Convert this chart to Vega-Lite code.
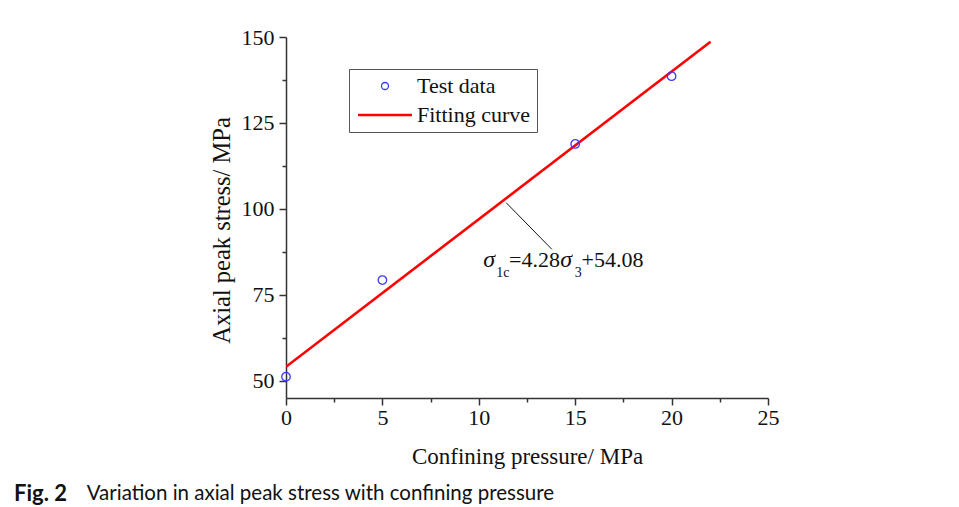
{
  "$schema": "https://vega.github.io/schema/vega-lite/v6.json",
  "width": 482,
  "height": 361,
  "autosize": {"type": "none"},
  "padding": {"left": 286, "top": 37, "right": 191, "bottom": 109},
  "background": "white",
  "title": {
    "text": "Fig. 2",
    "subtitle": "\u200b\u00a0\u00a0\u00a0\u00a0\u00a0\u00a0\u00a0\u00a0\u00a0\u00a0\u00a0\u00a0\u00a0\u00a0Variation in axial peak stress with confining pressure",
    "orient": "bottom",
    "anchor": "start",
    "frame": "group",
    "dx": -272,
    "offset": 16,
    "font": "Lato",
    "fontSize": 22,
    "fontWeight": "bold",
    "color": "#111",
    "subtitleFont": "Lato",
    "subtitleFontSize": 20.5,
    "subtitleColor": "#111",
    "subtitlePadding": -22
  },
  "config": {
    "view": {"stroke": null},
    "axis": {
      "labelFont": "Liberation Serif",
      "titleFont": "Liberation Serif",
      "labelFontSize": 22,
      "titleFontSize": 23,
      "labelColor": "#111",
      "titleColor": "#111",
      "titleFontWeight": "normal",
      "domainColor": "#333",
      "domainWidth": 1.5,
      "tickColor": "#333",
      "tickWidth": 1.5,
      "grid": false,
      "labelOverlap": false,
      "labelFlush": false
    }
  },
  "datasets": {
    "fit": [
      {"x": 0, "y": 54.08, "series": "Fitting curve"},
      {"x": 22.02, "y": 148.6, "series": "Fitting curve"}
    ],
    "test": [
      {"x": 0, "y": 51.2, "series": "Test data"},
      {"x": 5, "y": 79.3, "series": "Test data"},
      {"x": 15, "y": 118.9, "series": "Test data"},
      {"x": 20, "y": 138.6, "series": "Test data"}
    ],
    "leader": [
      {"x": 11.42, "y": 101.8, "x2": 13.79, "y2": 88.25}
    ],
    "eqMain": [
      {"x": 11.57, "y": 83.1, "t": "=4.28"},
      {"x": 15.33, "y": 83.1, "t": "+54.08"}
    ],
    "eqSigma": [
      {"x": 10.23, "y": 83.1, "t": "σ"},
      {"x": 14.22, "y": 83.1, "t": "σ"}
    ],
    "eqSub": [
      {"x": 10.9, "y": 80.3, "t": "1c"},
      {"x": 14.98, "y": 80.1, "t": "3"}
    ]
  },
  "layer": [
    {
      "data": {"name": "fit"},
      "mark": {"type": "line", "strokeWidth": 2.6, "clip": true},
      "encoding": {
        "x": {
          "field": "x", "type": "quantitative",
          "scale": {"domain": [0, 25], "nice": false, "zero": false},
          "axis": {
            "values": [0, 2.5, 5, 7.5, 10, 12.5, 15, 17.5, 20, 22.5, 25],
            "labelExpr": "datum.value % 5 === 0 ? datum.label : ''",
            "tickSize": {"condition": {"test": "datum.value % 5 === 0", "value": 7}, "value": 4},
            "title": "Confining pressure/ MPa",
            "labelPadding": 2,
            "titlePadding": 17
          }
        },
        "y": {
          "field": "y", "type": "quantitative",
          "scale": {"domain": [45, 150], "nice": false, "zero": false},
          "axis": {
            "values": [50, 62.5, 75, 87.5, 100, 112.5, 125, 137.5, 150],
            "labelExpr": "datum.value % 25 === 0 ? datum.label : ''",
            "tickSize": {"condition": {"test": "datum.value % 25 === 0", "value": 7}, "value": 4},
            "title": "Axial peak stress/ MPa",
            "titleFontSize": 24.5,
            "titleY": 193,
            "labelPadding": 5,
            "titlePadding": 7
          }
        },
        "color": {
          "field": "series", "type": "nominal",
          "scale": {"domain": ["Test data", "Fitting curve"], "range": ["#3b3bff", "#ff0000"]},
          "legend": {
            "title": null,
            "orient": "none",
            "legendX": 63,
            "legendY": 32,
            "padding": 6,
            "strokeColor": "#555",
            "fillColor": "white",
            "labelFont": "Liberation Serif",
            "labelFontSize": 22,
            "labelColor": "#111",
            "rowPadding": 7,
            "symbolOffset": 19,
            "labelOffset": 21,
            "symbolSize": 49,
            "symbolStrokeWidth": 1.3,
            "encode": {
              "symbols": {
                "update": {
                  "shape": {"signal": "datum.value === 'Test data' ? 'circle' : 'M-7.7,0H7.7'"},
                  "strokeWidth": {"signal": "datum.value === 'Test data' ? 1.3 : 2.6"},
                  "fill": {"value": "transparent"}
                }
              }
            }
          }
        }
      }
    },
    {
      "data": {"name": "test"},
      "mark": {"type": "point", "filled": false, "size": 72, "strokeWidth": 1.3, "opacity": 1},
      "encoding": {
        "x": {"field": "x", "type": "quantitative"},
        "y": {"field": "y", "type": "quantitative"},
        "color": {"field": "series", "type": "nominal"}
      }
    },
    {
      "data": {"name": "leader"},
      "mark": {"type": "rule", "color": "#111", "strokeWidth": 1},
      "encoding": {
        "x": {"field": "x", "type": "quantitative"},
        "y": {"field": "y", "type": "quantitative"},
        "x2": {"field": "x2"},
        "y2": {"field": "y2"}
      }
    },
    {
      "data": {"name": "eqMain"},
      "mark": {"type": "text", "font": "Liberation Serif", "fontSize": 22, "align": "left", "baseline": "alphabetic", "color": "#111"},
      "encoding": {
        "x": {"field": "x", "type": "quantitative"},
        "y": {"field": "y", "type": "quantitative"},
        "text": {"field": "t"}
      }
    },
    {
      "data": {"name": "eqSigma"},
      "mark": {"type": "text", "font": "Liberation Serif", "fontSize": 24, "fontStyle": "italic", "align": "left", "baseline": "alphabetic", "color": "#111"},
      "encoding": {
        "x": {"field": "x", "type": "quantitative"},
        "y": {"field": "y", "type": "quantitative"},
        "text": {"field": "t"}
      }
    },
    {
      "data": {"name": "eqSub"},
      "mark": {"type": "text", "font": "Liberation Serif", "fontSize": 14, "align": "left", "baseline": "alphabetic", "color": "#111"},
      "encoding": {
        "x": {"field": "x", "type": "quantitative"},
        "y": {"field": "y", "type": "quantitative"},
        "text": {"field": "t"}
      }
    }
  ]
}
